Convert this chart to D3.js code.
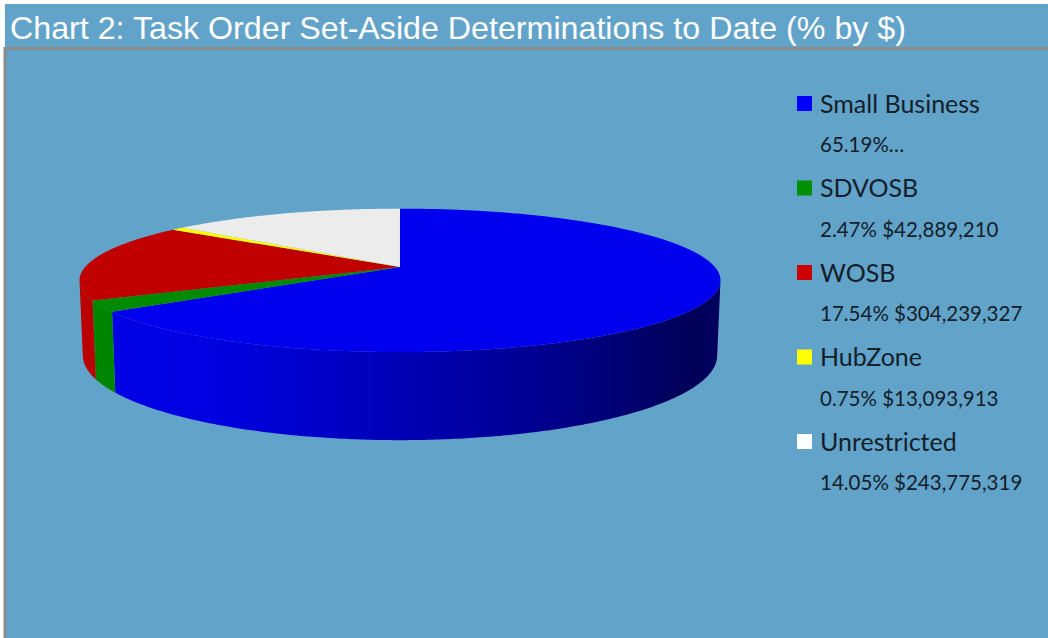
<!DOCTYPE html>
<html>
<head>
<meta charset="utf-8">
<script src="https://cdn.jsdelivr.net/npm/d3@7"></script>
<style>
  body { margin: 0; background: #fff; }
</style>
</head>
<body>
<svg id="chart" width="1048" height="638"></svg>
<script>
var categories = ['Small Business', 'SDVOSB', 'WOSB', 'HubZone', 'Unrestricted'];
var percents = [65.19, 2.47, 17.54, 0.75, 14.05];
var amounts = [null, 42889210, 304239327, 13093913, 243775319];
var colors = ['#0000ee', '#008a00', '#c00000', '#ffff00', '#ececec'];
var swatchColors = ['#0000ff', '#009000', '#cc0000', '#ffff00', '#ffffff'];

var svg = d3.select('#chart');
var bg = '#62a3c9';

svg.append('rect')
    .attr('x', 5).attr('y', 4)
    .attr('width', 1043).attr('height', 634)
    .attr('fill', bg);

svg.append('path')
    .attr('d', 'M5,638V48.5H1048')
    .attr('fill', 'none')
    .attr('stroke', '#8c8c8c')
    .attr('stroke-width', 3);

svg.append('text')
    .attr('x', 10).attr('y', 39)
    .attr('textLength', 896)
    .attr('lengthAdjust', 'spacingAndGlyphs')
    .style('font-family', '"Liberation Sans", Arial, sans-serif')
    .style('font-size', '32px')
    .style('fill', '#fff')
    .text('Chart 2: Task Order Set-Aside Determinations to Date (% by $)');

// simple perspective camera looking down on the pie
var cx = 400, cy = 267;
var F = 1650, dist = 5.24, tilt = 12.7 * Math.PI / 180, thick = 0.239;

function project(theta, r, h) {
    var u = r * Math.sin(theta);
    var v = -r * Math.cos(theta);
    var yc = h * Math.cos(tilt) - v * Math.sin(tilt);
    var zc = dist - v * Math.cos(tilt) - h * Math.sin(tilt);
    return [cx + F * u / zc, cy - F * yc / zc];
}

var pie = d3.pie().sort(null).value(function (d) { return d; });
var arcs = pie(percents);

// part of the side wall that faces the camera
var half = Math.acos(1 / (dist * Math.cos(tilt)));
var visMin = Math.PI - half, visMax = Math.PI + half;

var defs = svg.append('defs');
var shade = [[0, 0.97], [0.2, 0.95], [0.45, 0.8], [0.7, 0.62], [0.85, 0.48], [0.95, 0.37], [1, 0.4]];

arcs.forEach(function (d, i) {
    var c = d3.rgb(colors[i]);
    var g = defs.append('linearGradient')
        .attr('id', 'wall' + i)
        .attr('gradientUnits', 'userSpaceOnUse')
        .attr('x1', 80).attr('x2', 720).attr('y1', 0).attr('y2', 0);
    shade.forEach(function (s) {
        g.append('stop')
            .attr('offset', s[0])
            .attr('stop-color', d3.rgb(c.r * s[1], c.g * s[1], c.b * s[1]).formatHex());
    });
});

function arcPoints(a0, a1, h) {
    var n = Math.max(2, Math.ceil((a1 - a0) / 0.01));
    var pts = [];
    for (var k = 0; k <= n; k++) {
        pts.push(project(a0 + (a1 - a0) * k / n, 1, h));
    }
    return pts;
}

var line = d3.line();

var walls = svg.append('g').attr('class', 'walls');
arcs.forEach(function (d, i) {
    var a0 = Math.max(d.startAngle, visMin);
    var a1 = Math.min(d.endAngle, visMax);
    if (a1 <= a0) return;
    var top = arcPoints(a0, a1, 0);
    var bottom = arcPoints(a0, a1, -thick).reverse();
    walls.append('path')
        .attr('d', line(top.concat(bottom)) + 'Z')
        .attr('fill', 'url(#wall' + i + ')');
});

var tops = svg.append('g').attr('class', 'tops');
arcs.forEach(function (d, i) {
    var pts = [project(0, 0, 0)].concat(arcPoints(d.startAngle, d.endAngle, 0));
    tops.append('path')
        .attr('d', line(pts) + 'Z')
        .attr('fill', colors[i]);
});

// legend
var fmt = d3.format('$,');
var legend = svg.append('g').attr('class', 'legend');
var item = legend.selectAll('g.item')
    .data(categories)
    .enter()
    .append('g')
    .attr('class', 'item')
    .attr('transform', function (d, i) { return 'translate(797,' + (96 + i * 84.5) + ')'; });

item.append('rect')
    .attr('width', 15).attr('height', 15)
    .attr('fill', function (d, i) { return swatchColors[i]; });

item.append('text')
    .attr('x', 23).attr('y', 16.5)
    .style('font-family', 'Lato, sans-serif')
    .style('font-size', '25px')
    .style('fill', '#14202a')
    .text(function (d) { return d; });

item.append('text')
    .attr('x', 23).attr('y', 56)
    .style('font-family', 'Lato, sans-serif')
    .style('font-size', '20.5px')
    .style('fill', '#14202a')
    .text(function (d, i) {
        var p = percents[i].toFixed(2) + '%';
        return amounts[i] == null ? p + '…' : p + ' ' + fmt(amounts[i]);
    });
</script>
</body>
</html>
